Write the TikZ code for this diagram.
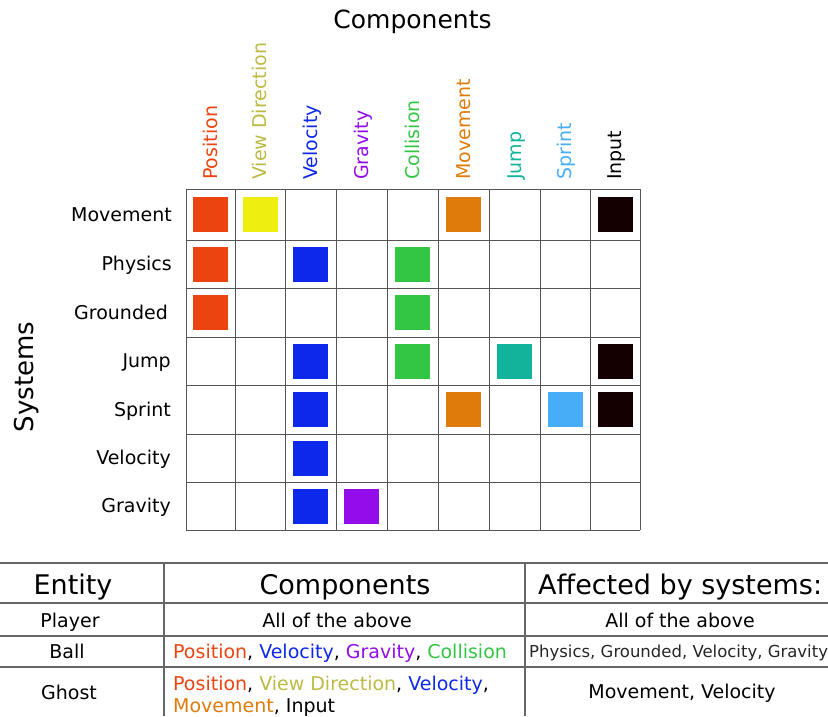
\documentclass[tikz,border=0pt]{standalone}
\usepackage{fontspec}
\setmainfont{DejaVu Sans}

\definecolor{gridgray}{HTML}{555555}
\definecolor{tablegray}{HTML}{666666}
\definecolor{cpos}{HTML}{EC4410}
\definecolor{cview}{HTML}{EEEE11}
\definecolor{tview}{HTML}{BBBB44}
\definecolor{cvel}{HTML}{0D28EA}
\definecolor{cgrav}{HTML}{930DEA}
\definecolor{ccoll}{HTML}{33C644}
\definecolor{cmove}{HTML}{DE7B0B}
\definecolor{cjump}{HTML}{12B39A}
\definecolor{csprint}{HTML}{48ADF7}
\definecolor{cinput}{HTML}{140000}

\tikzset{
    gridline/.style={draw=gridgray, line width=1pt},
    tableline/.style={draw=tablegray, line width=1.5pt},
    box/.style={minimum size=35pt, inner sep=0pt},
    complabel/.style={rotate=90, anchor=base west, inner sep=0pt, font=\fontsize{19}{22}\selectfont},
    syslabel/.style={anchor=base east, inner sep=0pt, font=\fontsize{19}{22}\selectfont},
    headtext/.style={anchor=base, inner sep=0pt, font=\fontsize{27}{30}\selectfont},
    celltext/.style={anchor=base, inner sep=0pt, font=\fontsize{19}{22}\selectfont}
}

\begin{document}
\begin{tikzpicture}[x=1pt, y=-1pt]
        \useasboundingbox (0, 0) rectangle (828, 716);

        %%titles
        \node[anchor=base, inner sep=0pt, font=\fontsize{25}{28}\selectfont] (comptitle) at(412.5, 28){Components};
        \node[rotate=90, anchor=base, inner sep=0pt, font=\fontsize{26}{29}\selectfont] (systitle) at(33, 377){Systems};

        %%grid
        \draw[gridline](186, 189) to (186, 530);
        \draw[gridline](235, 189) to (235, 530);
        \draw[gridline](285, 189) to (285, 530);
        \draw[gridline](336, 189) to (336, 530);
        \draw[gridline](387, 189) to (387, 530);
        \draw[gridline](438, 189) to (438, 530);
        \draw[gridline](489, 189) to (489, 530);
        \draw[gridline](540, 189) to (540, 530);
        \draw[gridline](590, 189) to (590, 530);
        \draw[gridline](640, 189) to (640, 530);
            \draw[gridline](186, 189) to (640, 189);
            \draw[gridline](186, 240) to (640, 240);
            \draw[gridline](186, 288) to (640, 288);
            \draw[gridline](186, 337) to (640, 337);
            \draw[gridline](186, 385) to (640, 385);
            \draw[gridline](186, 434) to (640, 434);
            \draw[gridline](186, 482) to (640, 482);
            \draw[gridline](186, 530) to (640, 530);

        %%components
        \node[complabel, text=cpos] (cpos) at(217, 180){Position};
        \node[complabel, text=tview] (cview) at(266.5, 180){View Direction};
        \node[complabel, text=cvel] (cvel) at(317, 180){Velocity};
        \node[complabel, text=cgrav] (cgrav) at(368, 180){Gravity};
        \node[complabel, text=ccoll] (ccoll) at(419, 180){Collision};
        \node[complabel, text=cmove] (cmove) at(470, 180){Movement};
        \node[complabel, text=cjump] (cjump) at(521, 180){Jump};
        \node[complabel, text=csprint] (csprint) at(571.5, 180){Sprint};
        \node[complabel, text=black] (cinput) at(621.5, 180){Input};

        %%systems
        \node[syslabel] (smove) at(172, 221){Movement};
        \node[syslabel] (sphys) at(172, 270.5){Physics};
        \node[syslabel] (sground) at(168, 319){Grounded};
        \node[syslabel] (sjump) at(171, 367.5){Jump};
        \node[syslabel] (ssprint) at(171, 416){Sprint};
        \node[syslabel] (svel) at(171, 464.5){Velocity};
        \node[syslabel] (sgrav) at(171, 512.5){Gravity};

        %%boxes
        \node[box, fill=cpos] (move-pos) at(210.5, 214.5){};
        \node[box, fill=cview] (move-view) at(260, 214.5){};
        \node[box, fill=cmove] (move-move) at(463.5, 214.5){};
        \node[box, fill=cinput] (move-input) at(615, 214.5){};
        \node[box, fill=cpos] (phys-pos) at(210.5, 264){};
        \node[box, fill=cvel] (phys-vel) at(310.5, 264){};
        \node[box, fill=ccoll] (phys-coll) at(412.5, 264){};
        \node[box, fill=cpos] (ground-pos) at(210.5, 312.5){};
        \node[box, fill=ccoll] (ground-coll) at(412.5, 312.5){};
        \node[box, fill=cvel] (jump-vel) at(310.5, 361){};
        \node[box, fill=ccoll] (jump-coll) at(412.5, 361){};
        \node[box, fill=cjump] (jump-jump) at(514.5, 361){};
        \node[box, fill=cinput] (jump-input) at(615, 361){};
        \node[box, fill=cvel] (sprint-vel) at(310.5, 409.5){};
        \node[box, fill=cmove] (sprint-move) at(463.5, 409.5){};
        \node[box, fill=csprint] (sprint-sprint) at(565, 409.5){};
        \node[box, fill=cinput] (sprint-input) at(615, 409.5){};
        \node[box, fill=cvel] (vel-vel) at(310.5, 458){};
        \node[box, fill=cvel] (grav-vel) at(310.5, 506){};
        \node[box, fill=cgrav] (grav-grav) at(361.5, 506){};

        %%table
        \draw[tableline](0, 563) to (828, 563);
        \draw[tableline](0, 603) to (828, 603);
        \draw[tableline](0, 636) to (828, 636);
        \draw[tableline](0, 667) to (828, 667);
        \draw[tableline](164, 563) to (164, 716);
        \draw[tableline](525, 563) to (525, 716);

        \node[headtext] (hentity) at(73, 594){Entity};
        \node[headtext] (hcomp) at(345, 594){Components};
        \node[headtext, anchor=base west] (hsys) at(538, 594){Affected by systems:};

        \node[celltext] (player) at(70, 627){Player};
        \node[celltext] (playercomp) at(337, 627){All of the above};
        \node[celltext] (playersys) at(680, 627){All of the above};

        \node[celltext] (ball) at(67, 658){Ball};
        \node[celltext, anchor=base west] (ballcomp) at(173, 658){{\color{cpos}Position}, {\color{cvel}Velocity}, {\color{cgrav}Gravity}, {\color{ccoll}Collision}};
        \node[celltext, anchor=base west, text=black!85, font=\fontsize{16.5}{19}\selectfont] (ballsys) at(529, 657){Physics, Grounded, Velocity, Gravity};

        \node[celltext] (ghost) at(69, 699){Ghost};
        \node[celltext, anchor=base west] (ghostcomp) at(173, 690){{\color{cpos}Position}, {\color{tview}View Direction}, {\color{cvel}Velocity},};
        \node[celltext, anchor=base west] (ghostcompb) at(173, 712){{\color{cmove}Movement}, Input};
        \node[celltext] (ghostsys) at(682, 698){Movement, Velocity};
    \end{tikzpicture}
\end{document}
